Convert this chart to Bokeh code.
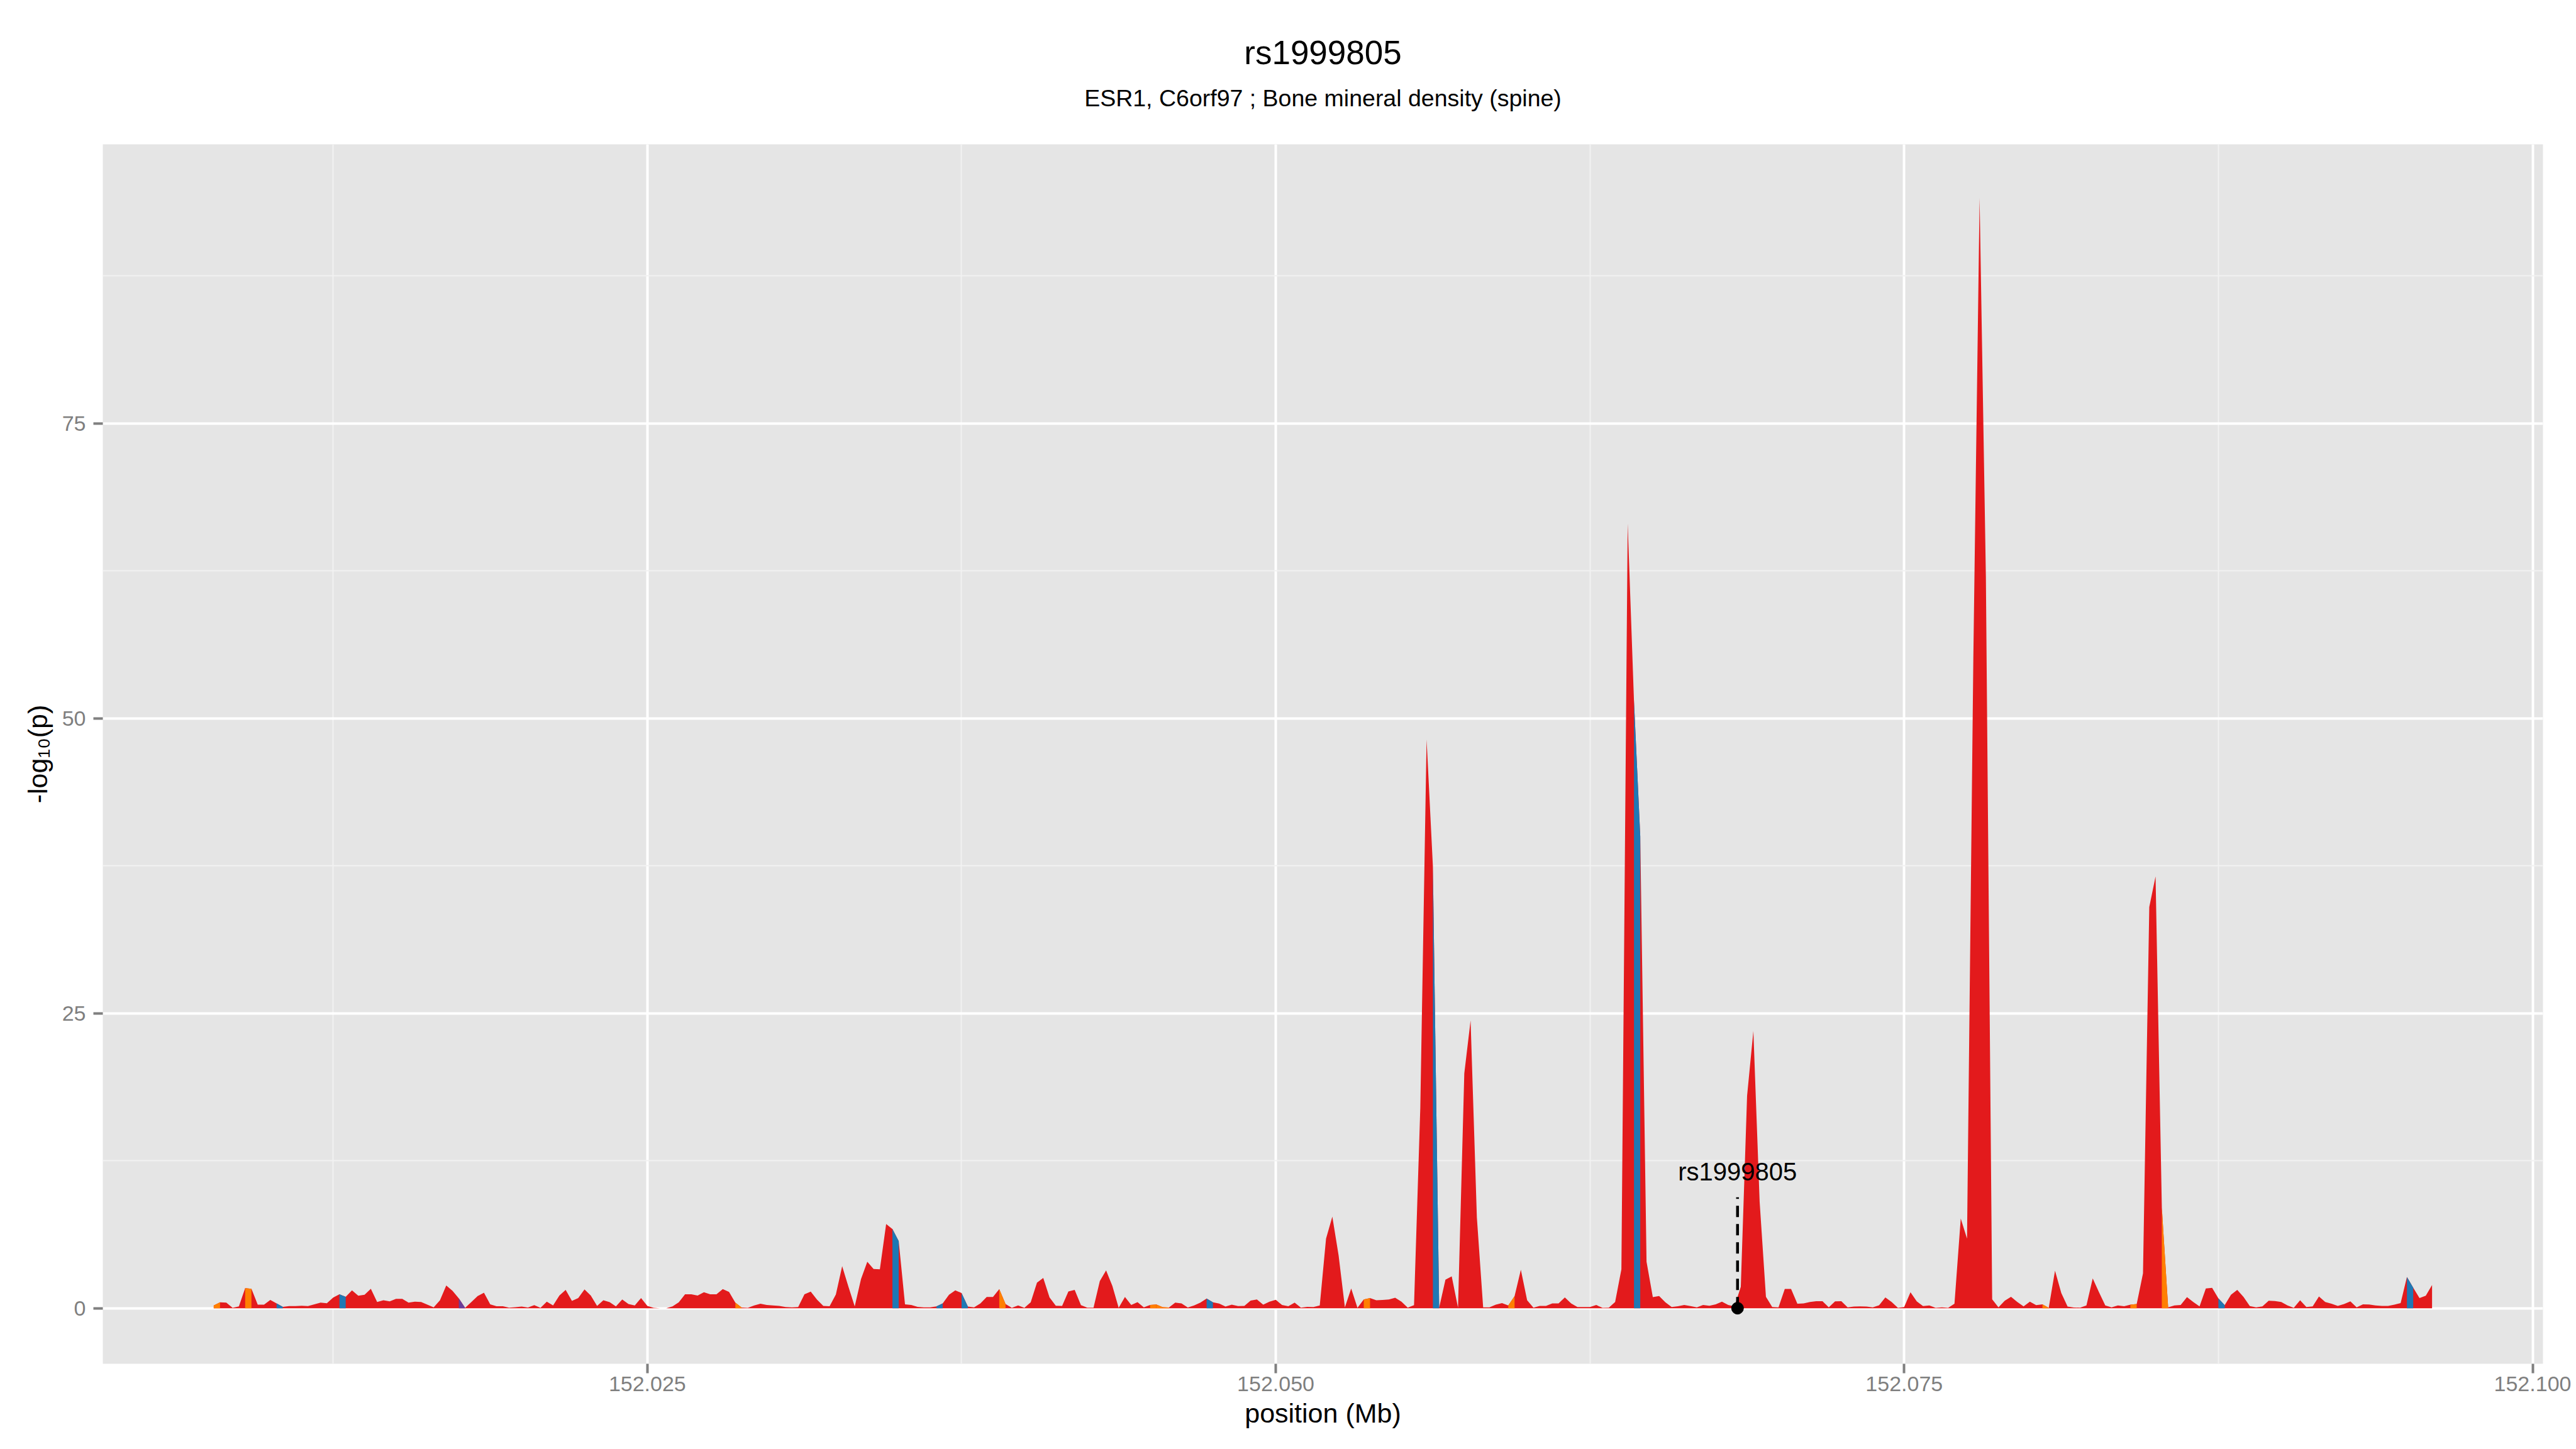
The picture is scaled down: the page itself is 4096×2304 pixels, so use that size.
from bokeh.plotting import figure
from bokeh.models import Range1d, FixedTicker, PrintfTickFormatter, LinearAxis, Title
from bokeh.embed import file_html
from bokeh.resources import INLINE
from bokeh.core.properties import value

# ---------------- data ----------------
title_text = "rs1999805"
subtitle_text = "ESR1, C6orf97 ; Bone mineral density (spine)"
x_label = "position (Mb)"
y_label = "-log\u2081\u2080(p)"

position_mb = [
    152.00775, 152.00800, 152.00825, 152.00850, 152.00875, 152.00900, 152.00925, 152.00950,
    152.00975, 152.01000, 152.01025, 152.01050, 152.01075, 152.01100, 152.01125, 152.01150,
    152.01175, 152.01200, 152.01225, 152.01250, 152.01275, 152.01300, 152.01325, 152.01350,
    152.01375, 152.01400, 152.01425, 152.01450, 152.01475, 152.01500, 152.01525, 152.01550,
    152.01575, 152.01600, 152.01625, 152.01650, 152.01675, 152.01700, 152.01725, 152.01750,
    152.01775, 152.01800, 152.01825, 152.01850, 152.01875, 152.01900, 152.01925, 152.01950,
    152.01975, 152.02000, 152.02025, 152.02050, 152.02075, 152.02100, 152.02125, 152.02150,
    152.02175, 152.02200, 152.02225, 152.02250, 152.02275, 152.02300, 152.02325, 152.02350,
    152.02375, 152.02400, 152.02425, 152.02450, 152.02475, 152.02500, 152.02525, 152.02550,
    152.02575, 152.02600, 152.02625, 152.02650, 152.02675, 152.02700, 152.02725, 152.02750,
    152.02775, 152.02800, 152.02825, 152.02850, 152.02875, 152.02900, 152.02925, 152.02950,
    152.02975, 152.03000, 152.03025, 152.03050, 152.03075, 152.03100, 152.03125, 152.03150,
    152.03175, 152.03200, 152.03225, 152.03250, 152.03275, 152.03300, 152.03325, 152.03350,
    152.03375, 152.03400, 152.03425, 152.03450, 152.03475, 152.03500, 152.03525, 152.03550,
    152.03575, 152.03600, 152.03625, 152.03650, 152.03675, 152.03700, 152.03725, 152.03750,
    152.03775, 152.03800, 152.03825, 152.03850, 152.03875, 152.03900, 152.03925, 152.03950,
    152.03975, 152.04000, 152.04025, 152.04050, 152.04075, 152.04100, 152.04125, 152.04150,
    152.04175, 152.04200, 152.04225, 152.04250, 152.04275, 152.04300, 152.04325, 152.04350,
    152.04375, 152.04400, 152.04425, 152.04450, 152.04475, 152.04500, 152.04525, 152.04550,
    152.04575, 152.04600, 152.04625, 152.04650, 152.04675, 152.04700, 152.04725, 152.04750,
    152.04775, 152.04800, 152.04825, 152.04850, 152.04875, 152.04900, 152.04925, 152.04950,
    152.04975, 152.05000, 152.05025, 152.05050, 152.05075, 152.05100, 152.05125, 152.05150,
    152.05175, 152.05200, 152.05225, 152.05250, 152.05275, 152.05300, 152.05325, 152.05350,
    152.05375, 152.05400, 152.05425, 152.05450, 152.05475, 152.05500, 152.05525, 152.05550,
    152.05575, 152.05600, 152.05625, 152.05650, 152.05675, 152.05700, 152.05725, 152.05750,
    152.05775, 152.05800, 152.05825, 152.05850, 152.05875, 152.05900, 152.05925, 152.05950,
    152.05975, 152.06000, 152.06025, 152.06050, 152.06075, 152.06100, 152.06125, 152.06150,
    152.06175, 152.06200, 152.06225, 152.06250, 152.06275, 152.06300, 152.06325, 152.06350,
    152.06375, 152.06400, 152.06425, 152.06450, 152.06475, 152.06500, 152.06525, 152.06550,
    152.06575, 152.06600, 152.06625, 152.06650, 152.06675, 152.06700, 152.06725, 152.06750,
    152.06775, 152.06800, 152.06825, 152.06850, 152.06875, 152.06900, 152.06925, 152.06950,
    152.06975, 152.07000, 152.07025, 152.07050, 152.07075, 152.07100, 152.07125, 152.07150,
    152.07175, 152.07200, 152.07225, 152.07250, 152.07275, 152.07300, 152.07325, 152.07350,
    152.07375, 152.07400, 152.07425, 152.07450, 152.07475, 152.07500, 152.07525, 152.07550,
    152.07575, 152.07600, 152.07625, 152.07650, 152.07675, 152.07700, 152.07725, 152.07750,
    152.07775, 152.07800, 152.07825, 152.07850, 152.07875, 152.07900, 152.07925, 152.07950,
    152.07975, 152.08000, 152.08025, 152.08050, 152.08075, 152.08100, 152.08125, 152.08150,
    152.08175, 152.08200, 152.08225, 152.08250, 152.08275, 152.08300, 152.08325, 152.08350,
    152.08375, 152.08400, 152.08425, 152.08450, 152.08475, 152.08500, 152.08525, 152.08550,
    152.08575, 152.08600, 152.08625, 152.08650, 152.08675, 152.08700, 152.08725, 152.08750,
    152.08775, 152.08800, 152.08825, 152.08850, 152.08875, 152.08900, 152.08925, 152.08950,
    152.08975, 152.09000, 152.09025, 152.09050, 152.09075, 152.09100, 152.09125, 152.09150,
    152.09175, 152.09200, 152.09225, 152.09250, 152.09275, 152.09300, 152.09325, 152.09350,
    152.09375, 152.09400, 152.09425, 152.09450, 152.09475, 152.09500, 152.09525, 152.09550,
    152.09575, 152.09600,
]

neg_log10_p = [
    0.23, 0.50, 0.48, 0.03, 0.15, 1.70, 1.65, 0.30,
    0.30, 0.70, 0.41, 0.12, 0.18, 0.18, 0.21, 0.18,
    0.33, 0.47, 0.42, 0.90, 1.18, 0.97, 1.52, 1.06,
    1.14, 1.65, 0.53, 0.67, 0.58, 0.79, 0.79, 0.47,
    0.56, 0.53, 0.30, 0.08, 0.68, 1.92, 1.48, 0.83,
    0.03, 0.53, 1.03, 1.32, 0.33, 0.17, 0.17, 0.05,
    0.09, 0.14, 0.06, 0.26, 0.03, 0.55, 0.24, 1.08,
    1.56, 0.62, 0.86, 1.59, 1.08, 0.20, 0.67, 0.52,
    0.15, 0.74, 0.35, 0.23, 0.86, 0.20, 0.03, 0.00,
    0.00, 0.15, 0.50, 1.18, 1.18, 1.08, 1.35, 1.18,
    1.18, 1.62, 1.38, 0.47, 0.06, 0.03, 0.23, 0.38,
    0.27, 0.24, 0.20, 0.10, 0.08, 0.10, 1.18, 1.41,
    0.73, 0.20, 0.17, 1.17, 3.56, 1.82, 0.15, 2.47,
    3.94, 3.33, 3.30, 7.14, 6.71, 5.68, 0.33, 0.27,
    0.12, 0.08, 0.08, 0.15, 0.41, 1.14, 1.52, 1.29,
    0.14, 0.08, 0.41, 0.95, 0.95, 1.62, 0.35, 0.03,
    0.24, 0.03, 0.50, 2.17, 2.56, 0.92, 0.21, 0.20,
    1.42, 1.55, 0.26, 0.05, 0.05, 2.30, 3.20, 1.88,
    0.03, 0.95, 0.27, 0.52, 0.08, 0.27, 0.32, 0.09,
    0.06, 0.47, 0.41, 0.06, 0.24, 0.47, 0.82, 0.50,
    0.39, 0.14, 0.30, 0.18, 0.20, 0.65, 0.74, 0.30,
    0.56, 0.71, 0.27, 0.17, 0.48, 0.05, 0.12, 0.10,
    0.23, 5.90, 7.77, 4.47, 0.08, 1.67, 0.03, 0.74,
    0.86, 0.67, 0.70, 0.74, 0.89, 0.56, 0.05, 0.26,
    17.0, 48.2, 37.5, 0.05, 2.42, 2.70, 0.05, 19.9,
    24.4, 7.70, 0.08, 0.08, 0.30, 0.44, 0.23, 1.02,
    3.26, 0.68, 0.05, 0.20, 0.20, 0.41, 0.41, 0.91,
    0.41, 0.10, 0.10, 0.10, 0.27, 0.03, 0.05, 0.53,
    3.30, 66.5, 51.5, 40.0, 3.94, 0.94, 1.03, 0.50,
    0.10, 0.17, 0.27, 0.18, 0.08, 0.27, 0.21, 0.33,
    0.55, 0.27, 0.15, 1.82, 18.0, 23.5, 9.00, 0.97,
    0.10, 0.08, 1.64, 1.64, 0.38, 0.41, 0.53, 0.59,
    0.59, 0.08, 0.58, 0.59, 0.08, 0.14, 0.15, 0.14,
    0.08, 0.25, 0.91, 0.53, 0.03, 0.10, 1.36, 0.58,
    0.18, 0.23, 0.03, 0.08, 0.03, 0.38, 7.60, 5.90,
    55.0, 94.1, 62.0, 0.76, 0.08, 0.64, 0.97, 0.53,
    0.15, 0.56, 0.26, 0.33, 0.03, 3.18, 1.29, 0.14,
    0.06, 0.05, 0.23, 2.53, 1.36, 0.23, 0.08, 0.23,
    0.17, 0.30, 0.35, 2.95, 34.0, 36.6, 8.50, 0.08,
    0.23, 0.27, 0.94, 0.53, 0.15, 1.67, 1.73, 0.83,
    0.26, 1.14, 1.56, 0.95, 0.18, 0.08, 0.15, 0.64,
    0.61, 0.53, 0.23, 0.03, 0.68, 0.10, 0.15, 1.00,
    0.53, 0.38, 0.20, 0.35, 0.58, 0.08, 0.33, 0.32,
    0.23, 0.20, 0.20, 0.30, 0.44, 2.65, 1.74, 0.86,
    1.06, 1.97,
]

# intervals (start position, Mb) filled with a colour other than red
orange_starts_mb = [152.00775, 152.00900, 152.02850, 152.03900, 152.04500, 152.04525,
                    152.04550, 152.05350, 152.05925, 152.08050, 152.08400, 152.08525]
blue_starts_mb = [152.01025, 152.01275, 152.03475, 152.03650, 152.03750, 152.04725,
                  152.05625, 152.06425, 152.08750, 152.09500]
purple_starts_mb = [152.01750]

snp_name = "rs1999805"
snp_position_mb = 152.06837
snp_value = 0.0
snp_line_top = 9.4
snp_label_y = 11.6

x_ticks = [152.025, 152.050, 152.075, 152.100]
x_minor_ticks = [152.0125, 152.0375, 152.0625, 152.0875]
y_ticks = [0, 25, 50, 75]
y_minor_ticks = [12.5, 37.5, 62.5, 87.5]

# ---------------- style ----------------
RED = "#E31A1C"
BLUE = "#1F78B4"
ORANGE = "#FF7F00"
PURPLE = "#6A3D9A"
PANEL = "#E5E5E5"
GREY50 = "#7F7F7F"
FONT = "Liberation Sans"

X_RANGE = (152.0033375, 152.1004125)
Y_RANGE = (-4.71, 98.65)

p = figure(width=4088, height=2296, output_backend="svg", toolbar_location=None, tools="",
           x_range=Range1d(*X_RANGE), y_range=Range1d(*Y_RANGE),
           min_border_left=163, min_border_right=45, min_border_top=229, min_border_bottom=128)
p.background_fill_color = PANEL
p.border_fill_color = "white"
p.outline_line_color = None

# axes
p.xaxis.ticker = FixedTicker(ticks=x_ticks, minor_ticks=x_minor_ticks)
p.yaxis.ticker = FixedTicker(ticks=y_ticks, minor_ticks=y_minor_ticks)
p.xaxis.formatter = PrintfTickFormatter(format="%.3f")
p.yaxis.formatter = PrintfTickFormatter(format="%d")
for ax in (p.xaxis, p.yaxis):
    ax.axis_line_color = None
    ax.major_tick_line_color = GREY50
    ax.major_tick_line_width = 4
    ax.major_tick_out = 15
    ax.major_tick_in = 0
    ax.minor_tick_line_color = None
    ax.major_label_text_color = GREY50
    ax.major_label_text_font = FONT
    ax.major_label_text_font_size = "34px"
    ax.axis_label_text_font = FONT
    ax.axis_label_text_font_size = "43px"
    ax.axis_label_text_font_style = "normal"
    ax.axis_label_text_color = "black"
p.xaxis.axis_label = x_label
p.yaxis.axis_label = y_label
p.xaxis.major_label_standoff = 5
p.xaxis.axis_label_standoff = 8
p.yaxis.major_label_standoff = 12
p.yaxis.axis_label_standoff = 12

for g in (p.xgrid, p.ygrid):
    g.grid_line_color = "white"
    g.grid_line_width = 4
    g.minor_grid_line_color = "#F2F2F2"
    g.minor_grid_line_width = 2
p.xgrid.ticker = p.xaxis.ticker
p.ygrid.ticker = p.yaxis.ticker

# subtitle (as the label of a bare axis above the panel) and title
sub_axis = LinearAxis(ticker=FixedTicker(ticks=[]), axis_label=subtitle_text,
                      axis_line_color=None, major_tick_line_color=None,
                      minor_tick_line_color=None, major_label_text_font_size="0px",
                      major_label_standoff=0, major_tick_out=0, major_tick_in=0,
                      axis_label_standoff=53, axis_label_text_font=FONT,
                      axis_label_text_font_size="37.5px", axis_label_text_font_style="normal",
                      axis_label_text_color="black")
p.add_layout(sub_axis, "above")
p.add_layout(Title(text=title_text, align="center", text_font=FONT, text_font_size="53px",
                   text_font_style="normal", text_color="black", standoff=38), "above")

# areas
n = len(position_mb)
p.varea(x=position_mb, y1=[0] * n, y2=neg_log10_p, fill_color=RED, fill_alpha=1)
for starts, color in ((orange_starts_mb, ORANGE), (blue_starts_mb, BLUE), (purple_starts_mb, PURPLE)):
    for s in starts:
        i = min(range(n), key=lambda j: abs(position_mb[j] - s))
        p.varea(x=position_mb[i:i + 2], y1=[0, 0], y2=neg_log10_p[i:i + 2],
                fill_color=color, fill_alpha=1)

# SNP annotation
p.segment(x0=[snp_position_mb], y0=[snp_value], x1=[snp_position_mb], y1=[snp_line_top],
          line_color="black", line_width=4.5, line_dash="18 11")
p.scatter(x=[snp_position_mb], y=[snp_value], size=19, fill_color="black", line_color="black")
p.text(x=[snp_position_mb], y=[snp_label_y], text=[snp_name], text_align="center",
       text_baseline="alphabetic", text_font=value(FONT), text_font_size="40px",
       text_color="black")

open("out.html", "w").write(file_html(p, INLINE))
